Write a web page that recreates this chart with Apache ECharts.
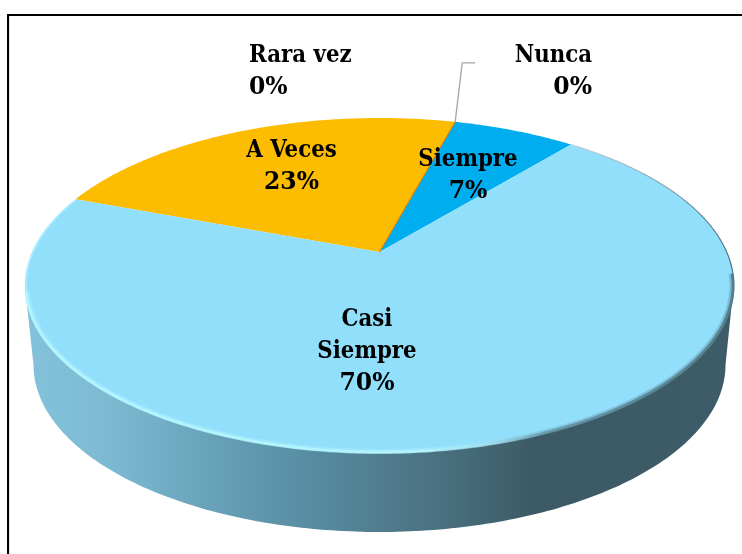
<!DOCTYPE html>
<html>
<head>
<meta charset="utf-8">
<style>html,body{margin:0;padding:0;background:#fff}#c{width:742px;height:554px}</style>
<script src="https://cdn.jsdelivr.net/npm/echarts@6/dist/echarts.min.js"></script>
</head>
<body>
<div id="c"></div>
<script>
const categories = ['A Veces', 'Rara vez', 'Nunca', 'Siempre', 'Casi\nSiempre'];
const values = [23.49, 0, 0, 6.8, 69.71];
const sliceColors = ['#FCBC00', '#FCBC00', '#C8741A', '#00AEEF', '#92DFFC'];

const startDeg = -69.5;
const apex = { x: 379.5, y: 252 };
const persp = { a: 347.5, b: 160.8, k: 0.2 };
const wallFloor = { cx: 379.5, cy: 365, rx: 346, ry: 167 };
const labelSpots = [
  { x: 291.5, y: 165, align: 'center' },
  { x: 249, y: 70, align: 'left' },
  { x: 592, y: 70, align: 'right' },
  { x: 468, y: 174, align: 'center' },
  { x: 367, y: 350, align: 'center' }
];
const total = values.reduce((s, v) => s + v, 0);

function project(deg, r) {
  const t = deg * Math.PI / 180, rr = r === undefined ? 1 : r;
  const u = rr * Math.sin(t), v = rr * Math.cos(t), d = 1 + persp.k * v;
  return [apex.x + persp.a * u / d, apex.y - persp.b * v / d];
}
function arc(from, to, r) {
  const pts = [], n = Math.max(1, Math.ceil(Math.abs(to - from) * 2));
  for (let i = 0; i <= n; i++) pts.push(project(from + (to - from) * i / n, r));
  return pts;
}
function startOf(idx) {
  let s = startDeg;
  for (let i = 0; i < idx; i++) s += values[i] / total * 360;
  return s;
}
function wall() {
  const f = wallFloor, pts = [[25, 287]];
  for (let d = 180; d >= 0; d -= 1) {
    const t = d * Math.PI / 180;
    pts.push([f.cx + f.rx * Math.cos(t), f.cy + f.ry * Math.sin(t)]);
  }
  pts.push([733.5, 287]);
  return pts;
}
const wallGrad = new echarts.graphic.LinearGradient(25, 0, 733, 0, [
  { offset: 0, color: '#84C2DB' },
  { offset: 0.12, color: '#7DBAD2' },
  { offset: 0.28, color: '#659FB6' },
  { offset: 0.42, color: '#558A9E' },
  { offset: 0.52, color: '#4F7A8B' },
  { offset: 0.62, color: '#466B79' },
  { offset: 0.72, color: '#3C5A66' },
  { offset: 1, color: '#3D5C68' }
], true);
const rimGrad = new echarts.graphic.LinearGradient(25, 0, 733, 0, [
  { offset: 0, color: '#B8F8FF' },
  { offset: 0.56, color: '#B8F8FF' },
  { offset: 0.66, color: '#A0DDEC' },
  { offset: 0.74, color: '#5F8E9E' },
  { offset: 1, color: '#4A6E7B' }
], true);
const edgeGrad = new echarts.graphic.LinearGradient(560, 0, 733, 0, [
  { offset: 0, color: '#C4D6DE' },
  { offset: 0.6, color: '#8FA9B4' },
  { offset: 1, color: '#4F7280' }
], true);

function renderSlice(params, api) {
  const i = params.dataIndex, val = api.value(0);
  const from = startOf(i), to = from + val / total * 360;
  const children = [];
  if (i === 0) {
    children.push({ type: 'polygon', shape: { points: wall() }, style: { fill: wallGrad } });
  }
  if (val === 0) {
    const e = project(from);
    children.push({ type: 'line', z2: 5, shape: { x1: apex.x, y1: apex.y, x2: e[0], y2: e[1] },
      style: { stroke: sliceColors[i], lineWidth: 1 } });
    if (categories[i] === 'Nunca') {
      children.push({ type: 'polyline', z2: 5,
        shape: { points: [e, [e[0] + 7, e[1] - 59], [e[0] + 20, e[1] - 59]] },
        style: { stroke: '#A6A6A6', lineWidth: 1.3, fill: null } });
    }
  } else {
    children.push({ type: 'polygon', shape: { points: [[apex.x, apex.y]].concat(arc(from, to)) },
      style: { fill: sliceColors[i] } });
  }
  if (i === values.length - 1) {
    const bendR = from + 58, bendL = to - 34;
    [[5, 0.3, 0.994], [3, 0.8, 0.997]].forEach(s => {
      children.push({ type: 'polyline', shape: { points: arc(bendR, bendL, s[2]) },
        style: { stroke: rimGrad, lineWidth: s[0], opacity: s[1], fill: null, lineCap: 'butt' } });
    });
    children.push({ type: 'polyline', shape: { points: arc(bendL, to, 0.997) },
      style: { stroke: '#B8F8FF', lineWidth: 1.5, opacity: 0.7, fill: null } });
    children.push({ type: 'polyline', shape: { points: arc(from, bendR, 0.999) },
      style: { stroke: edgeGrad, lineWidth: 1.2, fill: null } });
  }
  return { type: 'group', children };
}
function renderLabel(params, api) {
  const i = params.dataIndex, s = labelSpots[i];
  const pct = Math.round(api.value(0) / total * 100) + '%';
  const name = categories[i].split('\n').map(t => '{n|' + t + '}').join('\n');
  return { type: 'text', style: {
    x: s.x, y: s.y + 2, text: name + '\n{p|' + pct + '}',
    fill: '#000', align: s.align, verticalAlign: 'middle',
    rich: {
      n: { font: 'bold 23.7px "DejaVu Serif Condensed","DejaVu Serif",serif', lineHeight: 32, fill: '#000' },
      p: { font: 'bold 23.5px "DejaVu Serif",serif', lineHeight: 32, fill: '#000' }
    }
  } };
}
const chart = echarts.init(document.getElementById('c'), null, { renderer: 'canvas' });
chart.setOption({
  animation: false,
  backgroundColor: '#fff',
  graphic: [
    { type: 'line', shape: { x1: 7, y1: 15, x2: 742, y2: 15 }, style: { stroke: '#000', lineWidth: 2 } },
    { type: 'line', shape: { x1: 8, y1: 14, x2: 8, y2: 554 }, style: { stroke: '#000', lineWidth: 2 } },
    { type: 'line', shape: { x1: 9.5, y1: 16, x2: 9.5, y2: 554 }, style: { stroke: '#E4E4E4', lineWidth: 1 } }
  ],
  series: [
    { type: 'custom', coordinateSystem: 'none', renderItem: renderSlice, data: values.map(v => [v]), silent: true, z: 2 },
    { type: 'custom', coordinateSystem: 'none', renderItem: renderLabel, data: values.map(v => [v]), silent: true, z: 3 }
  ]
});
</script>
</body>
</html>
